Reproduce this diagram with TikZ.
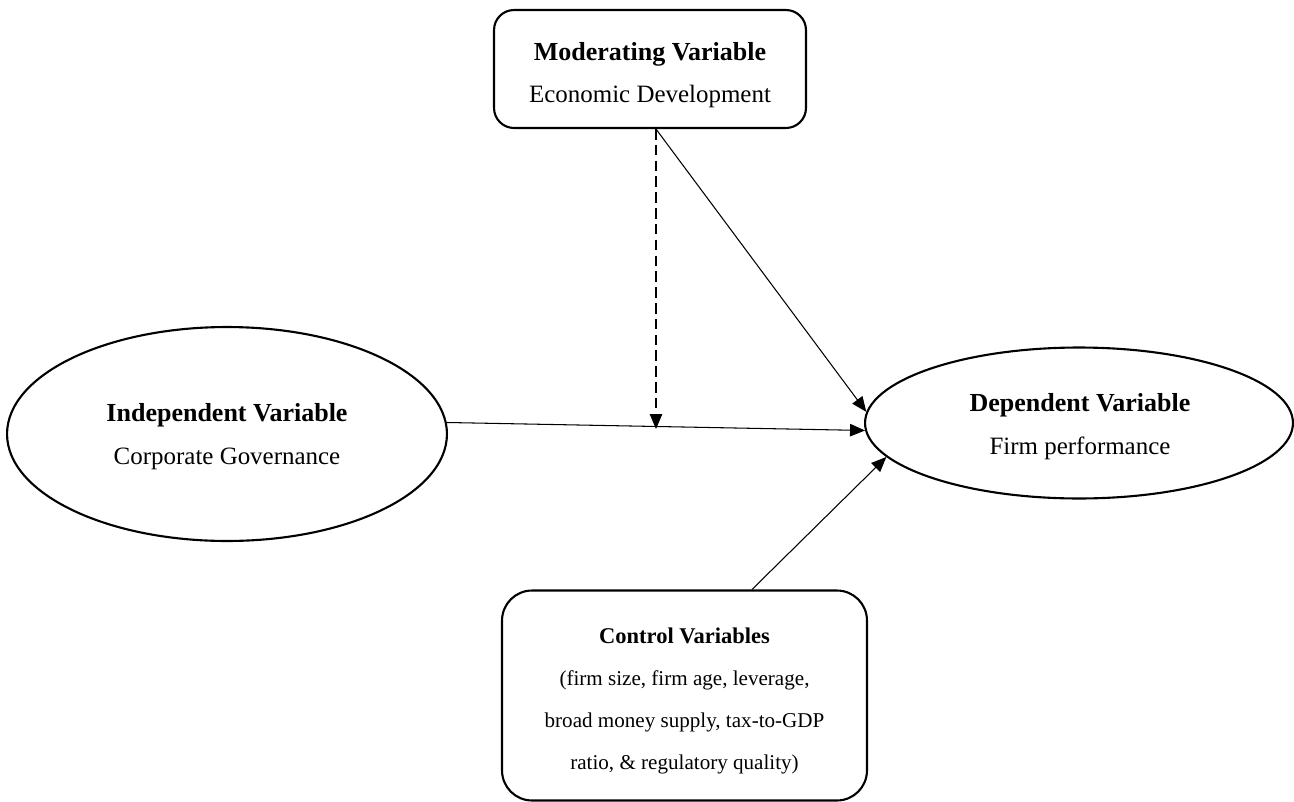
\documentclass[tikz,border=0pt]{standalone}
\usepackage{fontspec}
\setmainfont{Liberation Serif}
\usetikzlibrary{shapes.geometric,arrows.meta,calc}
\begin{document}
\begin{tikzpicture}[x=0.02cm,y=-0.02cm,
  boxline/.style={draw,line width=1.2pt},
  rbox/.style={boxline,rectangle,rounded corners=#1,inner sep=0pt},
  oval/.style={boxline,ellipse,inner sep=0pt},
  conn/.style={line width=0.6pt,-{Triangle[length=0.3cm,width=0.25cm]}},
  txt/.style={inner sep=0pt,anchor=base},
  bigb/.style={txt,font=\fontsize{14.8}{17}\selectfont\bfseries},
  bigr/.style={txt,font=\fontsize{14.2}{17}\selectfont},
  smallb/.style={txt,font=\fontsize{12.8}{15}\selectfont\bfseries},
  smallr/.style={txt,font=\fontsize{12}{14}\selectfont}
]
\useasboundingbox (0,0) rectangle (1294,801);
% shapes
\node[rbox=0.4cm,minimum width=6.24cm,minimum height=2.36cm] (mod) at (650,69) {};
\node[oval,minimum width=8.8cm,minimum height=4.28cm] (ind) at (227,434) {};
\node[oval,minimum width=8.56cm,minimum height=3.02cm] (dep) at (1079,423) {};
\node[rbox=0.6cm,minimum width=7.3cm,minimum height=4.2cm] (ctrl) at (684.5,695.5) {};
% texts
\node[bigb] (modt1) at (650,60) {Moderating Variable};
\node[bigr] (modt2) at (650,102) {Economic Development};
\node[bigb] (indt1) at (227,421) {Independent Variable};
\node[bigr] (indt2) at (227,464) {Corporate Governance};
\node[bigb] (dept1) at (1080,411) {Dependent Variable};
\node[bigr] (dept2) at (1080,454) {Firm performance};
\node[smallb] (ctt1) at (684.5,643) {Control Variables};
\node[smallr] (ctt2) at (684.5,685) {(firm size, firm age, leverage,};
\node[smallr] (ctt3) at (684.5,727) {broad money supply, tax-to-GDP};
\node[smallr] (ctt4) at (684.5,769) {ratio, \& regulatory quality)};
% connectors
\coordinate (modout) at ($(mod.south)+(6,0)$);
\coordinate (mid) at (656,429);
\draw[conn] (ind.3) -- (dep.182);
\draw[conn,dashed,dash pattern=on 6pt off 3pt] (modout) -- (mid);
\draw[conn] (modout) -- (dep.177);
\draw[conn] ($(ctrl.north)+(67.5,0)$) -- (dep.190);
\end{tikzpicture}
\end{document}
